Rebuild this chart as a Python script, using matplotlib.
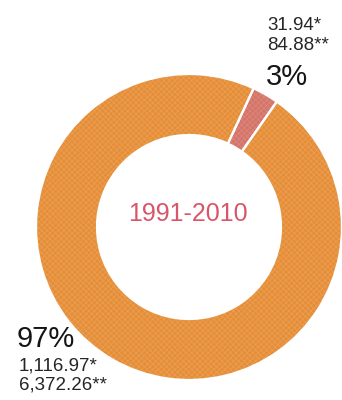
import matplotlib.pyplot as plt

# Share of the period total: small slice vs the rest
labels = ["3%", "97%"]
values = [31.94, 1116.97]
value_text = ["31.94*", "1,116.97*"]
second_values = ["84.88**", "6,372.26**"]
colors = ["#D5746A", "#E58E39"]
hatch_colors = ["#DC887B", "#EC9F52"]
period = "1991-2010"

font = ["Liberation Sans", "DejaVu Sans"]

fig = plt.figure(figsize=(3.42, 4.0), dpi=100)
ax = fig.add_axes([0, 0, 1, 1])

center = (189, 173)
plt.rcParams["hatch.linewidth"] = 0.5
# textured fill
wedges, _ = ax.pie(values, colors=colors, startangle=55, counterclock=True,
                   center=center, radius=153, frame=True,
                   wedgeprops=dict(width=61, linewidth=0))
for w, hc in zip(wedges, hatch_colors):
    w.set_edgecolor(hc)
    w.set_hatch("xxxxxx")
# white separators on top
ax.pie(values, colors=["none", "none"], startangle=55, counterclock=True,
       center=center, radius=153, frame=True,
       wedgeprops=dict(width=61, edgecolor="white", linewidth=1.6))

ax.set_xlim(0, 342)
ax.set_ylim(0, 400)
ax.set_aspect("equal")
ax.axis("off")

ax.text(188, 186, period, ha="center", va="center", fontsize=18,
        color="#D9566A", family=font)

# upper-right labels for the small slice
ax.text(267, 375, value_text[0], ha="left", va="center", fontsize=13.5, family=font, color="#262626")
ax.text(267, 354, second_values[0], ha="left", va="center", fontsize=13.5, family=font, color="#262626")
ax.text(266, 323, labels[0], ha="left", va="center", fontsize=21, family=font, color="#151515")

# lower-left labels for the large slice
ax.text(17, 61, labels[1], ha="left", va="center", fontsize=21, family=font, color="#151515")
ax.text(19, 34, value_text[1], ha="left", va="center", fontsize=13.5, family=font, color="#262626")
ax.text(19, 15, second_values[1], ha="left", va="center", fontsize=13.5, family=font, color="#262626")

fig.savefig("out.png", dpi=100)
